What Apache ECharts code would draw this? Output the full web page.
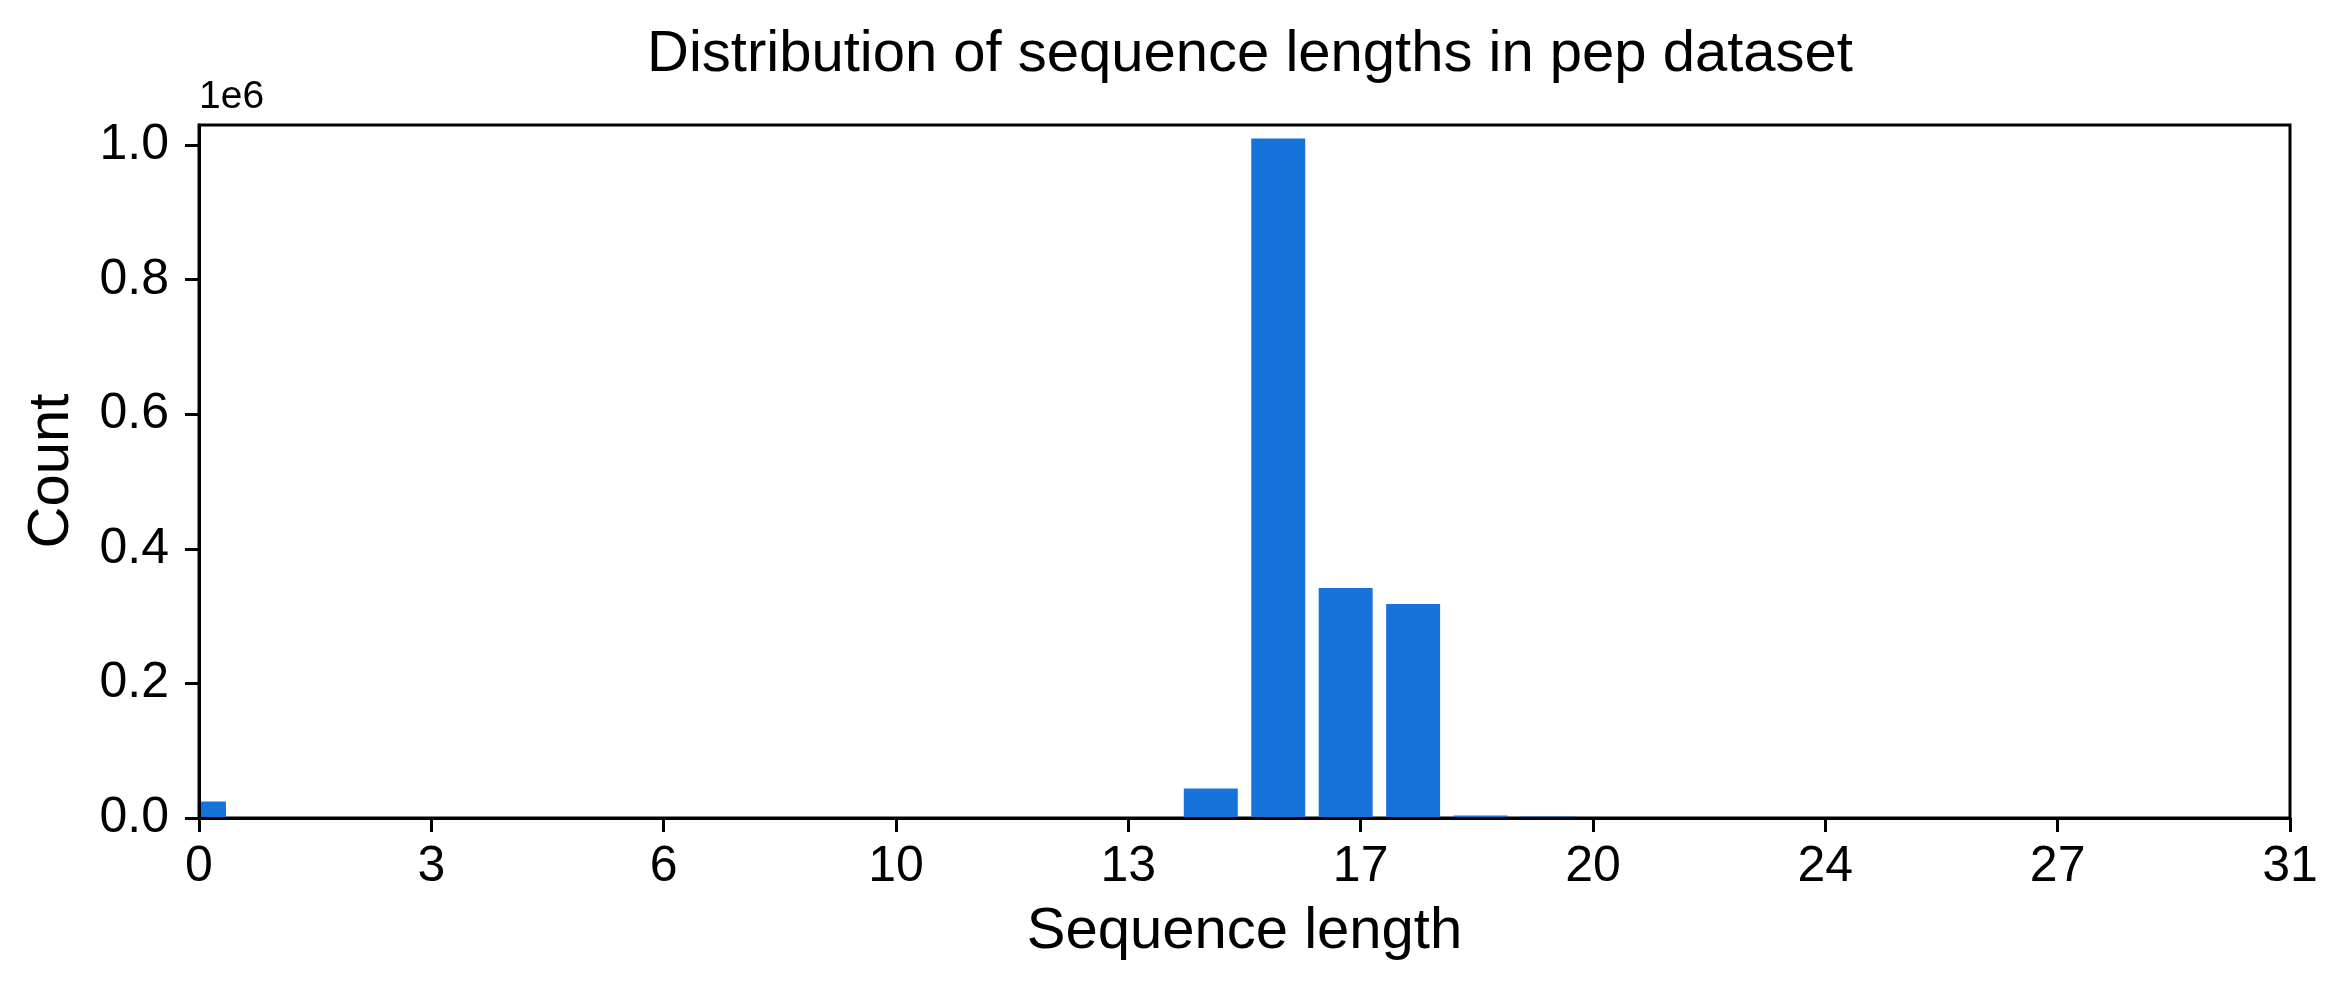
<!DOCTYPE html>
<html>
<head>
<meta charset="utf-8">
<script src="https://cdn.jsdelivr.net/npm/echarts@6/dist/echarts.min.js"></script>
<style>
  html, body { margin: 0; padding: 0; background: #fff; }
  #chart { width: 2349px; height: 995px; }
</style>
</head>
<body>
<div id="chart"></div>
<script>
// histogram counts per sequence length
var seqLengths = [0, 15, 16, 17, 18, 19, 20];
var seqCounts = [24500, 44000, 1010000, 342000, 318000, 3700, 2200];

// axis ticks (x ticks are linspace(0, 31, 10) shown as ints)
var xTickLabels = ['0', '3', '6', '10', '13', '17', '20', '24', '27', '31'];
var yTickValues = [0, 200000, 400000, 600000, 800000, 1000000];

var xMax = 31;
var yMax = 1030000;
var barWidth = 0.8;
var barColor = '#1673d9';
var font = 'Liberation Sans, Arial, Helvetica, sans-serif';

var xStep = xMax / (xTickLabels.length - 1);
var xTickValues = xTickLabels.map(function (t, i) { return i * xStep; });

var chart = echarts.init(document.getElementById('chart'));

var option = {
	animation: false,
	backgroundColor: '#fff',
	title: {
		text: 'Distribution of sequence lengths in pep dataset',
		left: 1245,
		top: 21,
		textAlign: 'center',
		textStyle: { fontFamily: font, fontSize: 58, fontWeight: 'normal', color: '#000' }
	},
	grid: {
		left: 199, right: 59, top: 125, bottom: 177,
		show: true, borderColor: '#000', borderWidth: 3, backgroundColor: 'transparent'
	},
	xAxis: {
		type: 'value',
		min: 0, max: xMax,
		z: 5,
		name: 'Sequence length',
		nameLocation: 'middle',
		nameGap: 85,
		nameTextStyle: { fontFamily: font, fontSize: 58, color: '#000' },
		axisLine: { show: true, lineStyle: { color: '#000', width: 3 } },
		axisTick: { show: true, length: 14, lineStyle: { color: '#000', width: 3 }, customValues: xTickValues },
		axisLabel: {
			customValues: xTickValues,
			margin: 24,
			fontFamily: font, fontSize: 50, color: '#000',
			formatter: function (v) { return xTickLabels[Math.round(v / xStep)]; }
		},
		splitLine: { show: false }
	},
	yAxis: {
		type: 'value',
		min: 0, max: yMax,
		z: 5,
		name: '1e6',
		nameLocation: 'end',
		nameGap: 8,
		nameTextStyle: { fontFamily: font, fontSize: 39, color: '#000', align: 'left' },
		axisLine: { show: true, lineStyle: { color: '#000', width: 3 } },
		axisTick: { show: true, length: 14, lineStyle: { color: '#000', width: 3 }, customValues: yTickValues },
		axisLabel: {
			customValues: yTickValues,
			margin: 30,
			fontFamily: font, fontSize: 50, color: '#000',
			formatter: function (v) { return (v / 1e6).toFixed(1); }
		},
		splitLine: { show: false }
	},
	graphic: [{
		// y axis title, rotated, centred on the plot
		type: 'text',
		x: 52, y: 471,
		rotation: Math.PI / 2,
		style: {
			text: 'Count', fontFamily: font, fontSize: 58, fill: '#000',
			align: 'center', verticalAlign: 'middle'
		}
	}],
	series: [{
		type: 'custom',
		data: seqLengths.map(function (x, i) { return [x, seqCounts[i]]; }),
		renderItem: function (params, api) {
			var x = api.value(0), y = api.value(1);
			var p0 = api.coord([x - barWidth / 2, y]);
			var p1 = api.coord([x + barWidth / 2, 0]);
			var rect = echarts.graphic.clipRectByRect(
				{ x: p0[0], y: p0[1], width: p1[0] - p0[0], height: p1[1] - p0[1] },
				{ x: params.coordSys.x, y: params.coordSys.y, width: params.coordSys.width, height: params.coordSys.height }
			);
			if (!rect) return null;
			return { type: 'rect', shape: rect, style: { fill: barColor } };
		}
	}]
};

chart.setOption(option);
</script>
</body>
</html>
